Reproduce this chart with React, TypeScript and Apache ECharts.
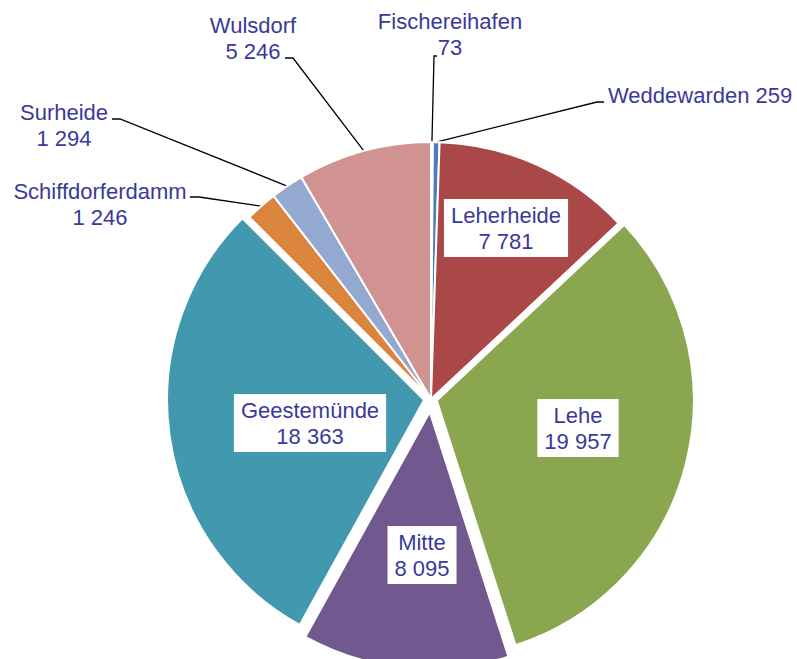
import React, { useEffect, useRef } from 'react';
import * as echarts from 'echarts';

const districts = ['Fischereihafen', 'Weddewarden', 'Leherheide', 'Lehe', 'Mitte', 'Geestemünde', 'Schiffdorferdamm', 'Surheide', 'Wulsdorf'];
const population = [73, 259, 7781, 19957, 8095, 18363, 1246, 1294, 5246];
const sliceColors = ['#c4d79b', '#4a7ebb', '#a94846', '#8aa64e', '#71588f', '#4198af', '#db843d', '#93a9cf', '#d09392'];
const insideLabelNames = ['Leherheide', 'Lehe', 'Mitte', 'Geestemünde'];
const singleLineNames = ['Weddewarden'];
const explodedNames: Record<string, number> = { Lehe: 6, Mitte: 13, 'Geestemünde': 7 };

const CX = 431;
const CY = 399;
const R = 257;
const TEXT_COLOR = '#3a3a98';
const FONT = '"Liberation Sans", Arial, sans-serif';

const LABEL_POS: Record<string, { x: number; y: number; align?: string; line?: number[][] }> = {
  Fischereihafen: { x: 450, y: 34, line: [[434, 56], [437, 56]] },
  Weddewarden: { x: 608, y: 95, align: 'left', line: [[597, 102], [604, 102]] },
  Leherheide: { x: 506, y: 228 },
  Lehe: { x: 578, y: 428 },
  Mitte: { x: 422, y: 555 },
  'Geestemünde': { x: 310, y: 423 },
  Schiffdorferdamm: { x: 100, y: 204, line: [[199, 197], [190, 197]] },
  Surheide: { x: 64, y: 125, line: [[120, 119], [112, 119]] },
  Wulsdorf: { x: 253, y: 38, line: [[293, 58], [285, 58]] },
};

const fmt = (n: number) => String(n).replace(/\B(?=(\d{3})+(?!\d))/g, ' ');

function midAngle(i: number): number {
  const total = population.reduce((a, b) => a + b, 0);
  let before = 0;
  for (let k = 0; k < i; k++) before += population[k];
  return ((before + population[i] / 2) / total) * 2 * Math.PI;
}

function edgePoint(i: number): number[] {
  const mid = midAngle(i);
  return [CX + R * Math.sin(mid), CY - R * Math.cos(mid)];
}

const transparent = { color: 'rgba(0,0,0,0)', borderWidth: 0 };

function slicesSeries(visible: (name: string) => boolean, center: number[], z: number) {
  return {
    type: 'pie',
    center,
    radius: R,
    startAngle: 90,
    clockwise: true,
    silent: true,
    z,
    emphasis: { disabled: true },
    label: { show: false },
    labelLine: { show: false },
    itemStyle: { borderColor: '#ffffff', borderWidth: 2 },
    data: districts.map((name, i) => ({
      name,
      value: population[i],
      itemStyle: visible(name) ? { color: sliceColors[i] } : transparent,
    })),
  };
}

export default function App() {
  const ref = useRef<HTMLDivElement>(null);
  useEffect(() => {
    document.body.style.margin = '0';
    const chart = echarts.init(ref.current!, undefined, { renderer: 'svg' });

    const exploded = Object.keys(explodedNames).map((name) => {
      const i = districts.indexOf(name);
      const mid = midAngle(i);
      const off = explodedNames[name];
      return slicesSeries((n) => n === name, [CX + off * Math.sin(mid), CY - off * Math.cos(mid)], 2);
    });

    const base: any = slicesSeries((n) => !(n in explodedNames), [CX, CY], 3);
    base.avoidLabelOverlap = false;
    base.label = {
      show: true,
      color: TEXT_COLOR,
      fontFamily: FONT,
      fontSize: 22,
      lineHeight: 26,
      align: 'center',
      formatter: (p: any) =>
        singleLineNames.includes(p.name) ? `${p.name} ${fmt(p.value)}` : `${p.name}\n${fmt(p.value)}`,
    };
    base.labelLine = {
      show: true,
      length: 20,
      length2: 10,
      smooth: false,
      lineStyle: { color: '#000000', width: 1.3 },
    };
    base.data = base.data.map((d: any) => {
      const inside = insideLabelNames.includes(d.name);
      return {
        ...d,
        label: inside
          ? { position: 'inside', backgroundColor: '#ffffff', padding: [3, 7, 3, 7] }
          : { position: 'outside' },
        labelLine: { show: !inside },
      };
    });
    base.labelLayout = (params: any) => {
      const name = districts[params.dataIndex];
      const p = LABEL_POS[name];
      if (!p) return {};
      const res: any = { x: p.x, y: p.y, align: p.align || 'center', verticalAlign: 'middle' };
      if (p.line) res.labelLinePoints = [edgePoint(params.dataIndex), ...p.line];
      return res;
    };

    chart.setOption({
      animation: false,
      backgroundColor: '#ffffff',
      series: [...exploded, base],
    });
    return () => chart.dispose();
  }, []);
  return <div ref={ref} style={{ position: 'absolute', left: 0, top: 0, width: 797, height: 659 }} />;
}
